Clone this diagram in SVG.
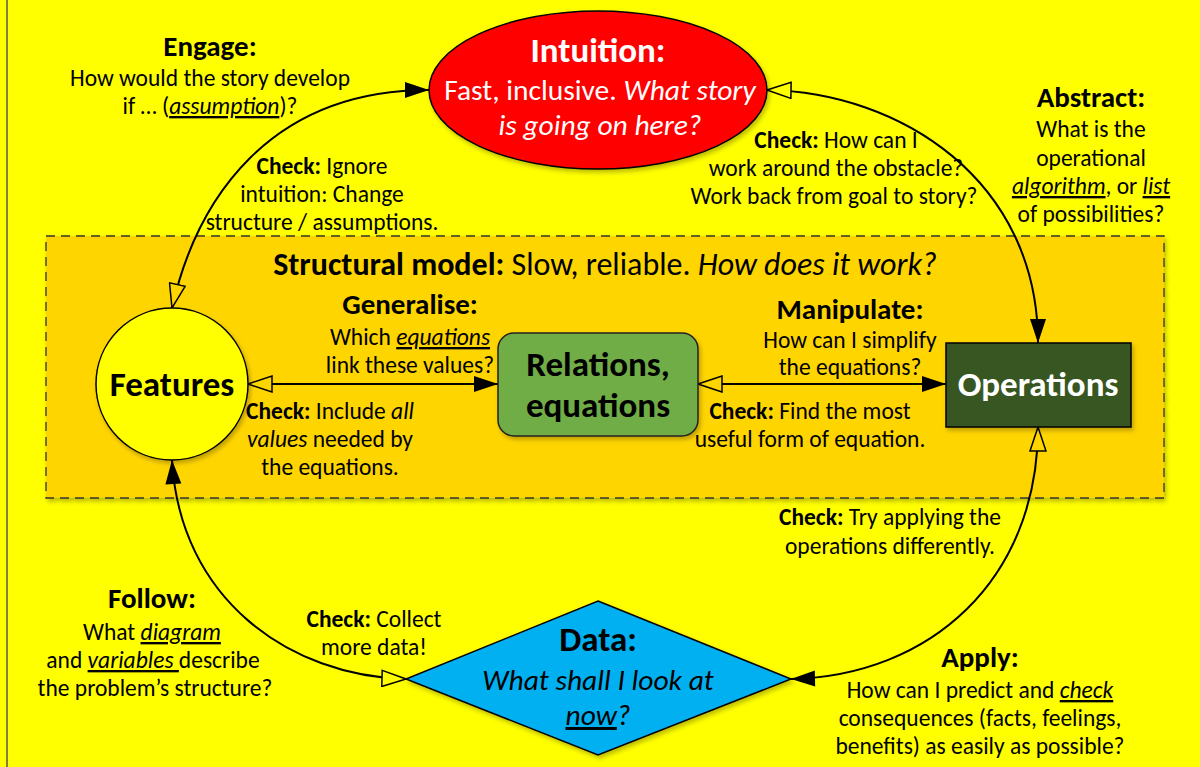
<svg xmlns="http://www.w3.org/2000/svg" width="1200" height="767" viewBox="0 0 1200 767">
<style>
.t{font-family:Carlito,Lato,"Liberation Sans",sans-serif;font-size:23.5px;fill:#000;text-anchor:middle}
.h{font-weight:bold;font-size:29px}
.b{font-weight:bold}
.i{font-style:italic}
.u{text-decoration:underline}
.big{font-weight:bold;font-size:35px}
.m{font-size:29.5px}
.w{fill:#fff}
.con{fill:none;stroke:#000;stroke-width:2}
</style>
<defs>
<marker id="fa" markerUnits="userSpaceOnUse" markerWidth="26" markerHeight="18" refX="24" refY="8" orient="auto-start-reverse" viewBox="-1 -1 26 18"><path d="M0,0 L24,8 L0,16 z" fill="#000"/></marker>
<marker id="hy" markerUnits="userSpaceOnUse" markerWidth="26" markerHeight="18" refX="24" refY="8" orient="auto-start-reverse" viewBox="-1 -1 26 18"><path d="M0,0 L24,8 L0,16 z" fill="#FFFF00" stroke="#000" stroke-width="1.5"/></marker>
<marker id="hg" markerUnits="userSpaceOnUse" markerWidth="26" markerHeight="18" refX="24" refY="8" orient="auto-start-reverse" viewBox="-1 -1 26 18"><path d="M0,0 L24,8 L0,16 z" fill="#FFD500" stroke="#000" stroke-width="1.5"/></marker>
<filter id="sh" x="-10%" y="-10%" width="130%" height="130%"><feDropShadow dx="2" dy="3" stdDeviation="2" flood-color="#000" flood-opacity="0.25"/></filter>
</defs>
<rect x="0" y="0" width="1200" height="767" fill="#FFFF00"/>
<line x1="7" y1="0" x2="7" y2="767" stroke="#555" stroke-width="1.5"/>

<g id="structural-model">
<rect x="46" y="236" width="1118" height="262" fill="#FFD500" stroke="#333" stroke-width="1.3" stroke-dasharray="9,6" filter="url(#sh)"/>
<text class="t" x="605" y="275" style="font-size:32px"><tspan class="b">Structural model:</tspan> Slow, reliable. <tspan class="i">How does it work?</tspan></text>
</g>

<g id="connectors">
<path class="con" d="M172,308 C197,198 270,90 429,90" marker-start="url(#hg)" marker-end="url(#fa)"/>
<path class="con" d="M767,90 C900,92 1038,180 1038,343" marker-start="url(#hy)" marker-end="url(#fa)"/>
<path class="con" d="M248,384 L498,384" marker-start="url(#hg)" marker-end="url(#fa)"/>
<path class="con" d="M698,384 L946,384" marker-start="url(#hg)" marker-end="url(#fa)"/>
<path class="con" d="M1038,427 C1038,580 930,676 791,679" marker-start="url(#hg)" marker-end="url(#fa)"/>
<path class="con" d="M406,679 C290,676 180,600 172,460" marker-start="url(#hy)" marker-end="url(#fa)"/>
</g>

<g id="intuition">
<ellipse cx="598" cy="90" rx="169" ry="79" fill="#FF0000" stroke="#000" stroke-width="1.5" filter="url(#sh)"/>
<text class="t w big" x="598" y="62">Intuition:</text>
<text class="t w m" x="600" y="100">Fast, inclusive. <tspan class="i">What story</tspan></text>
<text class="t w i m" x="600" y="135">is going on here?</text>
</g>

<g id="features">
<circle cx="172" cy="384" r="76" fill="#FFFF00" stroke="#000" stroke-width="1.5" filter="url(#sh)"/>
<text class="t big" x="172" y="396">Features</text>
</g>

<g id="relations">
<rect x="498" y="333" width="200" height="103" rx="16" fill="#70AD47" stroke="#222" stroke-width="1.5" filter="url(#sh)"/>
<text class="t big" x="598" y="376">Relations,</text>
<text class="t big" x="598" y="417">equations</text>
</g>

<g id="operations">
<rect x="946" y="343" width="185" height="84" fill="#375623" stroke="#000" stroke-width="1.5" filter="url(#sh)"/>
<text class="t big w" x="1038" y="396">Operations</text>
</g>

<g id="data">
<polygon points="598,601 791,679 598,755 406,679" fill="#00B0F0" stroke="#000" stroke-width="1.5" filter="url(#sh)"/>
<text class="t big" x="598" y="651">Data:</text>
<text class="t i m" x="598" y="690">What shall I look at</text>
<text class="t i m" x="598" y="725"><tspan class="u">now</tspan>?</text>
</g>

<g id="labels">
<text class="t h" x="210" y="56">Engage:</text>
<text class="t" x="210" y="86">How would the story develop</text>
<text class="t" x="210" y="114">if … (<tspan class="i u">assumption</tspan>)?</text>

<text class="t" x="322" y="174"><tspan class="b">Check:</tspan> Ignore</text>
<text class="t" x="322" y="202">intuition: Change</text>
<text class="t" x="322" y="230">structure / assumptions.</text>

<text class="t h" x="1091" y="107">Abstract:</text>
<text class="t" x="1091" y="137">What is the</text>
<text class="t" x="1091" y="166">operational</text>
<text class="t" x="1091" y="194"><tspan class="i u">algorithm</tspan>, or <tspan class="i u">list</tspan></text>
<text class="t" x="1091" y="222">of possibilities?</text>

<text class="t" x="836" y="148"><tspan class="b">Check:</tspan> How can I</text>
<text class="t" x="836" y="176">work around the obstacle?</text>
<text class="t" x="834" y="204">Work back from goal to story?</text>

<text class="t h" x="410" y="314">Generalise:</text>
<text class="t" x="410" y="345">Which <tspan class="i u">equations</tspan></text>
<text class="t" x="410" y="373">link these values?</text>

<text class="t" x="330" y="419"><tspan class="b">Check:</tspan> Include <tspan class="i">all</tspan></text>
<text class="t" x="330" y="447"><tspan class="i">values</tspan> needed by</text>
<text class="t" x="330" y="475">the equations.</text>

<text class="t h" x="850" y="319">Manipulate:</text>
<text class="t" x="850" y="348">How can I simplify</text>
<text class="t" x="850" y="375">the equations?</text>

<text class="t" x="810" y="419"><tspan class="b">Check:</tspan> Find the most</text>
<text class="t" x="810" y="447">useful form of equation.</text>

<text class="t" x="890" y="525"><tspan class="b">Check:</tspan> Try applying the</text>
<text class="t" x="890" y="554">operations differently.</text>

<text class="t h" x="152" y="608">Follow:</text>
<text class="t" x="152" y="640">What <tspan class="i u">diagram</tspan></text>
<text class="t" x="153" y="668">and <tspan class="i u">variables </tspan>describe</text>
<text class="t" x="155" y="696">the problem’s structure?</text>

<text class="t" x="374" y="627"><tspan class="b">Check:</tspan> Collect</text>
<text class="t" x="374" y="655">more data!</text>

<text class="t h" x="980" y="667">Apply:</text>
<text class="t" x="980" y="698">How can I predict and <tspan class="i u">check</tspan></text>
<text class="t" x="980" y="726">consequences (facts, feelings,</text>
<text class="t" x="980" y="754">benefits) as easily as possible?</text>
</g>
</svg>
